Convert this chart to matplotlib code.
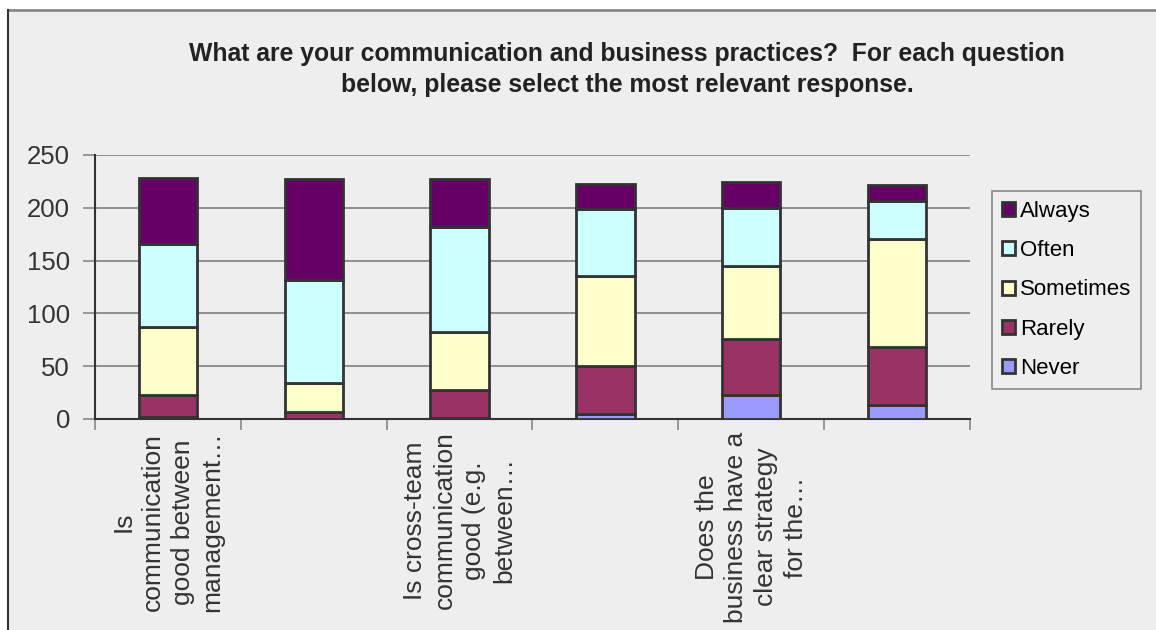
import numpy as np
import matplotlib
matplotlib.use('Agg')
import matplotlib.pyplot as plt
from matplotlib.patches import Rectangle, Patch
from matplotlib.lines import Line2D

plt.rcParams['font.family'] = ['Liberation Sans', 'DejaVu Sans']

# categories (only some show a label in the chart)
categories = ['Is\ncommunication\ngood between\nmanagement…', '',
              'Is cross-team\ncommunication\ngood (e.g.\nbetween…', '',
              'Does the\nbusiness have a\nclear strategy\nfor the…', '']

series = ['Never', 'Rarely', 'Sometimes', 'Often', 'Always']
never = [2, 0, 1, 5, 23, 13]
rarely = [21, 7, 26, 45, 53, 55]
sometimes = [64, 27, 55, 85, 69, 102]
often = [79, 98, 100, 64, 55, 36]
always = [62, 95, 45, 24, 24, 16]
colors = ['#9999FF', '#993366', '#FFFFCC', '#CCFFFF', '#660066']

bg = '#EEEEEE'
fig = plt.figure(figsize=(11.56, 6.3), dpi=100, facecolor='white')

# chart area background + border (the picture is a crop)
fig.patches.append(Rectangle((8 / 1156, 0), 1, 1 - 10 / 630, transform=fig.transFigure,
                             facecolor=bg, edgecolor='none', zorder=-5))
fig.add_artist(Line2D([8 / 1156, 1], [1 - 10 / 630] * 2, transform=fig.transFigure,
                      color='#888888', lw=2, zorder=-4))
fig.add_artist(Line2D([8 / 1156] * 2, [0, 1 - 10 / 630], transform=fig.transFigure,
                      color='#333333', lw=1.5, zorder=-4))

ax = fig.add_axes([95 / 1156, 1 - 419 / 630, (970 - 95) / 1156, (419 - 155) / 630])
ax.set_facecolor(bg)

x = np.arange(len(categories))
bottom = np.zeros(len(categories))
for name, vals, c in zip(series, [never, rarely, sometimes, often, always], colors):
    ax.bar(x, vals, 0.4, bottom=bottom, color=c, edgecolor='#333333', linewidth=2,
           label=name, zorder=3)
    bottom += np.array(vals)

ax.set_xlim(-0.5, len(categories) - 0.5)
ax.set_ylim(0, 250)
ax.set_yticks(range(0, 251, 50))
ax.grid(axis='y', color='#888888', linewidth=1.3, zorder=0)
ax.tick_params(axis='y', length=9, width=1.2, color='#888888', pad=9,
               labelsize=18.5, labelcolor='#333333')

# labels at centres, tick marks at category boundaries
ax.set_xticks(x)
ax.set_xticklabels(categories, rotation=90, ha='center', va='top', fontsize=19,
                   color='#333333', multialignment='center', linespacing=1.3)
ax.tick_params(axis='x', which='major', length=0, pad=9)
ax.set_xticks(np.arange(-0.5, len(categories)), minor=True)
ax.tick_params(axis='x', which='minor', length=8, width=1.2, color='#888888')

for s in ['top', 'right']:
    ax.spines[s].set_visible(False)
ax.spines['left'].set_color('#333333')
ax.spines['left'].set_linewidth(1.5)
ax.spines['bottom'].set_color('#333333')
ax.spines['bottom'].set_linewidth(1.5)

handles = [Patch(facecolor=c, edgecolor='#333333', linewidth=2, label=n)
           for n, c in zip(series, colors)][::-1]
leg = fig.legend(handles=handles, loc='upper left', bbox_to_anchor=(992 / 1156, 1 - 191 / 630),
                 fontsize=16, frameon=True, fancybox=False, edgecolor='#888888',
                 facecolor=bg, framealpha=1, handlelength=0.6, handleheight=0.6,
                 handletextpad=0.2, labelspacing=0.82, borderpad=0.45, borderaxespad=0)
leg.get_frame().set_linewidth(1.2)

fig.text(627 / 1156, 1 - 69.5 / 630,
         'What are your communication and business practices?  For each question\n'
         'below, please select the most relevant response.',
         ha='center', va='center', fontsize=17.8, fontweight='bold', color='#222222',
         linespacing=1.38)

fig.savefig('out.png', dpi=100, facecolor=fig.get_facecolor())
